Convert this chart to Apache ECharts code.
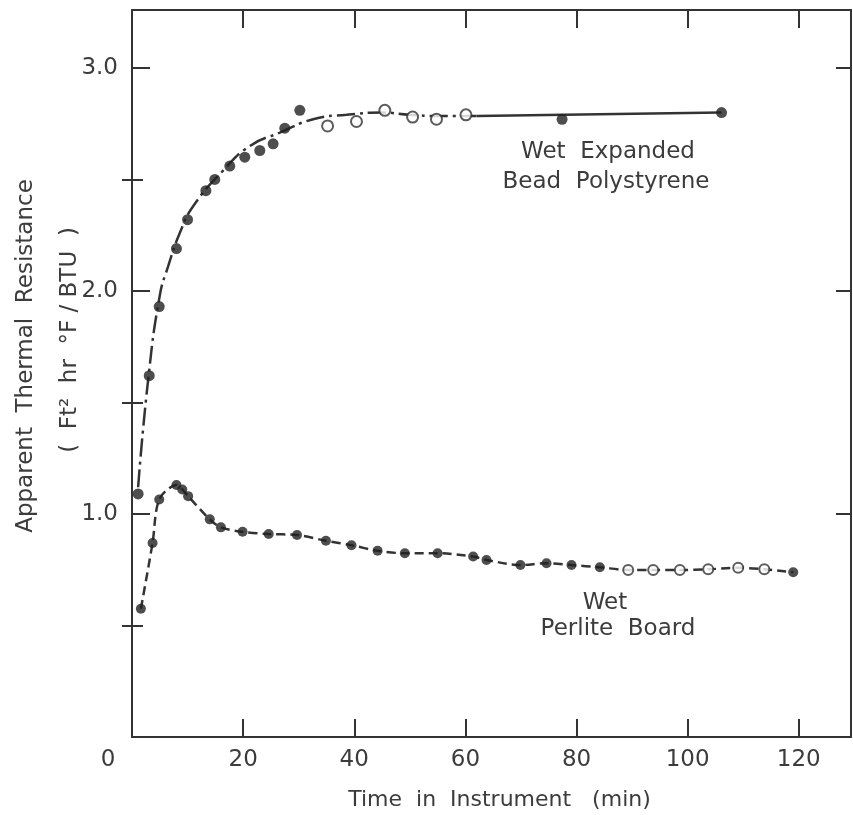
<!DOCTYPE html>
<html>
<head>
<meta charset="utf-8">
<script src="https://cdn.jsdelivr.net/npm/echarts@6/dist/echarts.min.js"></script>
<style>
  html, body { margin: 0; background: #fff; }
  #main { width: 853px; height: 815px; }
</style>
</head>
<body>
<div id="main"></div>
<script>
// wet expanded bead polystyrene, [min, resistance]
var beadFilled = [
  [1.1, 1.09], [3.1, 1.62], [4.9, 1.93], [8.0, 2.19], [10.0, 2.32],
  [13.3, 2.45], [14.9, 2.50], [17.6, 2.56], [20.3, 2.60], [23.0, 2.63],
  [25.4, 2.66], [27.5, 2.73], [30.2, 2.81], [77.4, 2.77], [106.1, 2.80]
];
var beadOpen = [
  [35.2, 2.74], [40.4, 2.76], [45.5, 2.81], [50.5, 2.78], [54.8, 2.77], [60.1, 2.79]
];
// curve drawn through the polystyrene points
var beadCurve = [
  [1.1, 1.12], [2.9, 1.60], [5.0, 1.98], [6.5, 2.11], [8.6, 2.26], [11.0, 2.38],
  [16.4, 2.54], [21.2, 2.65], [26.6, 2.71], [32.6, 2.77], [38.6, 2.79],
  [45.0, 2.80], [50.0, 2.79], [55.0, 2.785], [62.0, 2.785]
];
var beadTail = [[62.0, 2.785], [106.1, 2.80]];

// wet perlite board
var perliteFilled = [
  [1.6, 0.575], [3.7, 0.87], [4.9, 1.065], [8.0, 1.13], [9.05, 1.11], [10.1, 1.08],
  [14.0, 0.976], [16.0, 0.94], [19.9, 0.92], [24.6, 0.91], [29.7, 0.906],
  [34.9, 0.88], [39.5, 0.86], [44.2, 0.835], [49.1, 0.824], [55.0, 0.824],
  [61.4, 0.809], [63.8, 0.794], [69.9, 0.771], [74.6, 0.779], [79.1, 0.771],
  [84.2, 0.761], [119.0, 0.739]
];
var perliteOpen = [
  [89.3, 0.749], [93.8, 0.749], [98.6, 0.749], [103.7, 0.752], [109.1, 0.759], [113.8, 0.752]
];

var xTicks = [0, 20, 40, 60, 80, 100, 120];
var yTicks = [1, 2, 3];
var yMinorTicks = [0.5, 1.5, 2.5];

var ink = '#333';
var textInk = '#3c3c3c';
var font = 'DejaVu Sans';

var perliteLine = perliteFilled.concat(perliteOpen).sort(function (a, b) { return a[0] - b[0]; });

var myChart = echarts.init(document.getElementById('main'));

var axisLine = { show: true, onZero: false, lineStyle: { color: ink, width: 2 } };
var tick = function (len, values) {
  return { inside: true, length: len, customValues: values, lineStyle: { color: ink, width: 2 } };
};

var option = {
  animation: false,
  backgroundColor: '#fff',
  grid: { left: 132, right: 2, top: 10, bottom: 78, outerBoundsMode: 'none', containLabel: false },
  xAxis: [
    {
      type: 'value', position: 'bottom', min: 0, max: 129.4,
      axisLine: axisLine, axisTick: tick(18, xTicks),
      splitLine: { show: false },
      axisLabel: {
        customValues: xTicks,
        margin: 12, color: textInk, fontSize: 23, fontFamily: font,
        formatter: function (v) {
          return v === 0 ? '{z|0}' : String(v);
        },
        rich: { z: { fontSize: 23, fontFamily: font, color: textInk, padding: [0, 48, 0, 0] } }
      },
      name: 'Time  in  Instrument   (min)',
      nameLocation: 'middle', nameGap: 52,
      nameTextStyle: { color: textInk, fontSize: 22, fontFamily: font, padding: [0, 0, 0, 16] }
    },
    {
      type: 'value', position: 'top', min: 0, max: 129.4,
      axisLine: axisLine, axisTick: tick(18, xTicks),
      axisLabel: { show: false }, splitLine: { show: false }
    }
  ],
  yAxis: [
    {
      type: 'value', position: 'left', min: 0, max: 3.26,
      axisLine: axisLine, axisTick: tick(18, yTicks),
      splitLine: { show: false },
      axisLabel: {
        customValues: yTicks,
        margin: 14, color: textInk, fontSize: 23, fontFamily: font,
        formatter: function (v) { return v.toFixed(1); }
      }
    },
    {
      type: 'value', position: 'left', min: 0, max: 3.26,
      axisLine: { show: false }, axisTick: tick(11, yMinorTicks),
      axisLabel: { show: false }, splitLine: { show: false }
    },
    {
      type: 'value', position: 'right', min: 0, max: 3.26,
      axisLine: axisLine, axisTick: tick(15, yTicks),
      axisLabel: { show: false }, splitLine: { show: false }
    },
    {
      type: 'value', position: 'right', min: 0, max: 3.26,
      axisLine: { show: false }, axisTick: tick(10, yMinorTicks),
      axisLabel: { show: false }, splitLine: { show: false }
    }
  ],
  graphic: [
    {
      type: 'text', x: 26, y: 356, rotation: Math.PI / 2,
      style: { text: 'Apparent  Thermal  Resistance', fill: textInk, fontSize: 23, fontFamily: font,
               textAlign: 'center', textVerticalAlign: 'middle' }
    },
    {
      type: 'text', x: 70, y: 340, rotation: Math.PI / 2,
      style: { text: '(  Ft²  hr  °F / BTU  )', fill: textInk, fontSize: 23, fontFamily: font,
               textAlign: 'center', textVerticalAlign: 'middle' }
    },
    {
      type: 'text', x: 608, y: 152,
      style: { text: 'Wet  Expanded', fill: textInk, fontSize: 23, fontFamily: font,
               textAlign: 'center', textVerticalAlign: 'middle' }
    },
    {
      type: 'text', x: 606, y: 182,
      style: { text: 'Bead  Polystyrene', fill: textInk, fontSize: 23, fontFamily: font,
               textAlign: 'center', textVerticalAlign: 'middle' }
    },
    {
      type: 'text', x: 605, y: 603,
      style: { text: 'Wet', fill: textInk, fontSize: 23, fontFamily: font,
               textAlign: 'center', textVerticalAlign: 'middle' }
    },
    {
      type: 'text', x: 618, y: 629,
      style: { text: 'Perlite  Board', fill: textInk, fontSize: 23, fontFamily: font,
               textAlign: 'center', textVerticalAlign: 'middle' }
    }
  ],
  series: [
    {
      name: 'bead curve', type: 'line', data: beadCurve, smooth: true, showSymbol: false,
      lineStyle: { color: ink, width: 2.5, type: [18, 5, 3, 5] }, z: 2
    },
    {
      name: 'bead tail', type: 'line', data: beadTail, showSymbol: false,
      lineStyle: { color: ink, width: 2.5 }, z: 2
    },
    {
      name: 'perlite line', type: 'line', data: perliteLine, smooth: 0.3, showSymbol: false,
      lineStyle: { color: ink, width: 2.5, type: [9, 5] }, z: 2
    },
    {
      name: 'bead filled', type: 'scatter', data: beadFilled, symbolSize: 11,
      itemStyle: { color: '#222' }, z: 3
    },
    {
      name: 'bead open', type: 'scatter', data: beadOpen, symbolSize: 11,
      itemStyle: { color: '#fff', borderColor: ink, borderWidth: 2 }, z: 3
    },
    {
      name: 'perlite filled', type: 'scatter', data: perliteFilled, symbolSize: 10,
      itemStyle: { color: '#222' }, z: 3
    },
    {
      name: 'perlite open', type: 'scatter', data: perliteOpen, symbolSize: 10,
      itemStyle: { color: '#fff', borderColor: ink, borderWidth: 2 }, z: 3
    }
  ]
};

myChart.setOption(option);
window.onresize = function () {
  myChart.resize();
};
</script>
</body>
</html>
